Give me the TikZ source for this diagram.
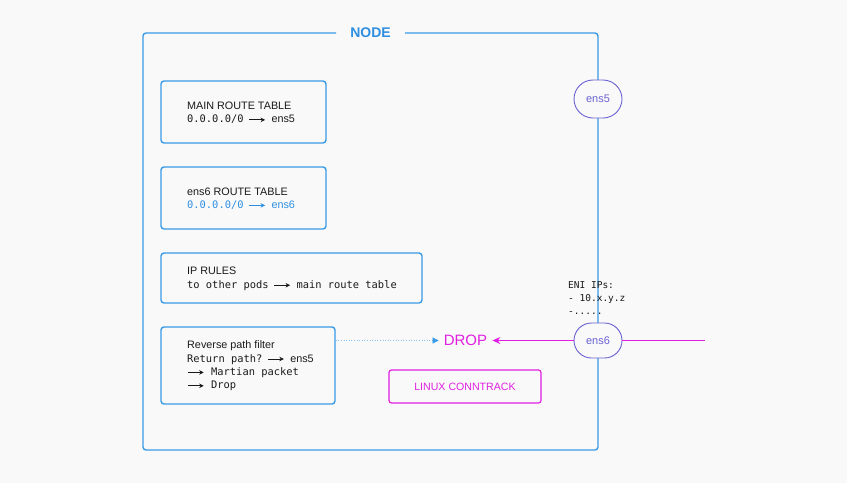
\documentclass[tikz,border=0pt]{standalone}
\usepackage{fontspec}
\setmainfont{Liberation Sans}
\setmonofont{DejaVu Sans Mono}
\usetikzlibrary{arrows.meta,shapes.misc}
\definecolor{bg}{HTML}{F9F9FA}
\definecolor{nodeblue}{HTML}{3A9BE6}
\definecolor{txtblue}{HTML}{2E8FE0}
\definecolor{mag}{HTML}{E020E0}
\definecolor{ensc}{HTML}{6A62D2}
\definecolor{ink}{HTML}{1A1A1A}
\newcommand\arrglyph{\tikz[baseline=-0.55ex]\draw[line width=1pt,-{Stealth[length=4.5pt,width=4.5pt]}] (0pt,0pt)--(16pt,0pt);}
\newcommand\rarr{\hspace{5pt}\arrglyph\hspace{6pt}}
\newcommand\larr{\arrglyph\hspace{7pt}}
\newcommand\mono[1]{{\ttfamily\fontsize{10.4}{13.4}\selectfont #1}}
\tikzset{
  panel/.style={draw=nodeblue,line width=1.4pt,rounded corners=3pt,fill=bg,inner sep=0pt},
  paneltext/.style={anchor=west,align=left,text=ink,font=\fontsize{10.8}{13.4}\selectfont,inner sep=0pt},
  ens/.style={draw=ensc,line width=0.9pt,rounded rectangle,fill=bg,minimum width=48pt,minimum height=36pt,text=ensc,font=\fontsize{11}{12}\selectfont,inner sep=0pt}
}
\begin{document}
\begin{tikzpicture}[x=1pt,y=-1pt]
\fill[bg] (0,0) rectangle (847,483);
\useasboundingbox (0,0) rectangle (847,483);
% outer node frame
\draw[nodeblue,line width=1.4pt,rounded corners=3pt] (336,33) -- (143,33) -- (143,450) -- (598,450) -- (598,33) -- (405,33);
\node[text=txtblue,font=\fontsize{14}{16}\selectfont\bfseries,inner sep=0pt] (title) at (370.5,33) {NODE};
% panels
\node[panel,minimum width=165pt,minimum height=62pt] (main) at (243.5,112) {};
\node[paneltext] (maint) at (187,113) {MAIN ROUTE TABLE\\\mono{0.0.0.0/0}\rarr ens5};
\node[panel,minimum width=165pt,minimum height=62pt] (e6rt) at (243.5,198) {};
\node[paneltext] (e6rtt) at (187,198.5) {ens6 ROUTE TABLE\\\textcolor{txtblue}{\mono{0.0.0.0/0}\color{txtblue}\rarr ens6}};
\node[panel,minimum width=261pt,minimum height=50pt] (ipr) at (291.5,278) {};
\node[paneltext] (iprt) at (187,279) {IP RULES\\\mono{to other pods}\rarr\mono{main route table}};
\node[panel,minimum width=174pt,minimum height=77pt] (rpf) at (248,365.5) {};
\node[paneltext] (rpft) at (187,366) {Reverse path filter\\\mono{Return path?}\rarr ens5\\\larr\mono{Martian packet}\\\larr\mono{Drop}};
% drop and conntrack
\node[text=mag,font=\fontsize{15}{18}\selectfont,inner sep=0pt] (drop) at (465.5,340.5) {DROP};
\node[draw=mag,line width=1.2pt,rounded corners=2.5pt,minimum width=152pt,minimum height=33pt,text=mag,font=\fontsize{10.6}{12}\selectfont,inner sep=0pt,fill=bg] (ct) at (465,386.5) {LINUX CONNTRACK};
% ens nodes
\node[ens,minimum height=38pt] (ens5) at (598,99) {ens5};
\node[ens,minimum height=35pt] (ens6) at (598,340.5) {ens6};
\node[anchor=west,align=left,text=ink,font=\ttfamily\fontsize{9.5}{13}\selectfont,inner sep=0pt] (eni) at (568,298) {ENI IPs:\\- 10.x.y.z\\-.....};
% connectors
\coordinate (ext) at (705,340.5);
\draw[mag,line width=1.2pt] (ens6.east) -- (ext);
\draw[mag,line width=1.2pt,-{Stealth[length=8pt,width=7pt]}] (ens6.west) -- ([xshift=5pt]drop.east);
\draw[nodeblue!60,line width=0.6pt,dotted] (rpf.east |- drop) -- ([xshift=-10pt]drop.west);
\draw[nodeblue,line width=0.6pt,-{Triangle[length=6pt,width=6pt]}] ([xshift=-11pt]drop.west) -- ([xshift=-5pt]drop.west);
\end{tikzpicture}
\end{document}
